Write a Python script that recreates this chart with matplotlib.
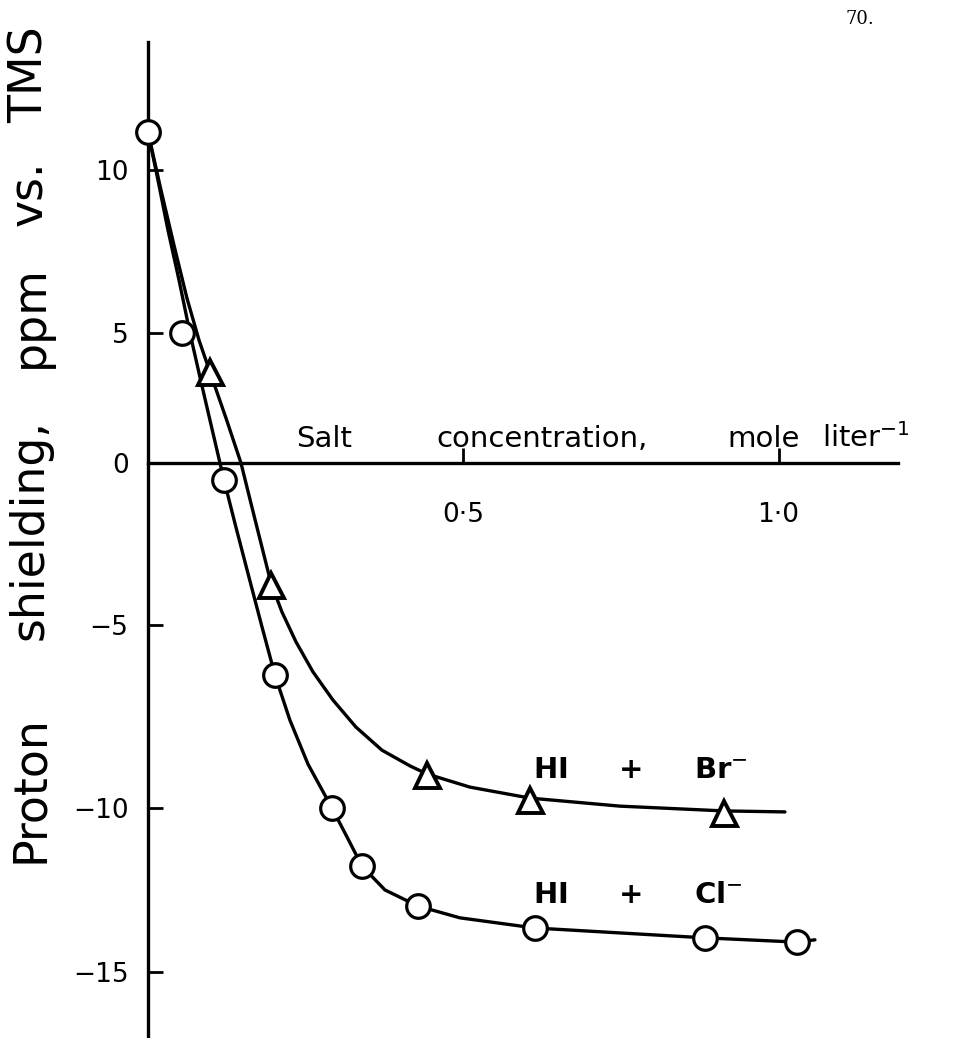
import matplotlib.pyplot as plt
import numpy as np

# HI + Cl-  (open circles)
cl_conc = [0.0, 0.054, 0.1205, 0.2014, 0.2917, 0.3393, 0.4281, 0.6136, 0.8832, 1.029]
cl_shield = [11.17, 5.0, -0.52, -6.37, -10.0, -11.77, -12.99, -13.66, -13.96, -14.09]

# HI + Br-  (open triangles)
br_conc = [0.0983, 0.195, 0.4424, 0.6057, 0.9133]
br_shield = [3.5, -3.77, -9.10, -9.78, -10.15]

# hand-drawn smooth curves through the measurements
cl_line_x = [0.0, 0.0159, 0.0317, 0.0492, 0.0666, 0.0824, 0.0983, 0.1142, 0.1205,
             0.1395, 0.1601, 0.1808, 0.2014, 0.2251, 0.2537, 0.2917, 0.3139, 0.3393,
             0.3758, 0.4281, 0.4947, 0.6136, 0.7484, 0.8832, 1.029, 1.0576]
cl_line_y = [11.17, 9.69, 8.16, 6.63, 5.0, 3.31, 1.65, 0.0, -0.52,
             -1.98, -3.52, -5.05, -6.37, -7.60, -8.80, -10.0, -10.82, -11.77,
             -12.50, -12.99, -13.35, -13.66, -13.81, -13.96, -14.09, -14.02]
br_line_x = [0.0, 0.0206, 0.0412, 0.0618, 0.0809, 0.0983, 0.1237, 0.1475, 0.1601,
             0.1728, 0.1839, 0.195, 0.2125, 0.2347, 0.2616, 0.2933, 0.3298, 0.371,
             0.4154, 0.4424, 0.5105, 0.6057, 0.7484, 0.9133, 1.010]
br_line_y = [11.17, 9.39, 7.70, 6.07, 4.73, 3.50, 1.73, 0.0, -0.99,
             -1.98, -2.84, -3.70, -4.60, -5.46, -6.28, -7.05, -7.79, -8.42,
             -8.85, -9.07, -9.43, -9.73, -9.95, -10.09, -10.12]

y_ticks = [-15, -10, -5, 0, 5, 10]
y_ticklabels = ['\u221215', '\u221210', '\u22125', '0', '5', '10']
x_ticks = [0.5, 1.0]
x_ticklabels = ['0\u00b75', '1\u00b70']

# the ppm ruler was drawn by hand and is not evenly spaced:
# where each labelled value sits along the drawn axis
ruler_vals = np.array([-15.0, -10.0, -5.0, 0.0, 5.0, 10.0])
ruler_pos = np.array([-15.906, -10.781, -5.0625, 0.0, 4.0625, 9.156])


def _stretch(v, xs, ys):
    v = np.asarray(v, dtype=float)
    out = np.interp(v, xs, ys)
    lo = (ys[1] - ys[0]) / (xs[1] - xs[0])
    hi = (ys[-1] - ys[-2]) / (xs[-1] - xs[-2])
    out = np.where(v < xs[0], ys[0] + (v - xs[0]) * lo, out)
    out = np.where(v > xs[-1], ys[-1] + (v - xs[-1]) * hi, out)
    return out


def to_ruler(v):
    return _stretch(v, ruler_vals, ruler_pos)


def from_ruler(p):
    return _stretch(p, ruler_pos, ruler_vals)


fig = plt.figure(figsize=(9.68, 10.38), dpi=100)
ax = fig.add_axes([0, 0, 1, 1])
ax.set_yscale('function', functions=(to_ruler, from_ruler))
ax.set_xlim(-0.2346, 1.3003)
ax.set_ylim(float(from_ruler(-17.97)), float(from_ruler(14.47)))

lw = 2.4
ax.plot(cl_line_x, cl_line_y, color='black', lw=lw, solid_joinstyle='round',
        solid_capstyle='round', zorder=2)
ax.plot(br_line_x, br_line_y, color='black', lw=lw, solid_joinstyle='round',
        solid_capstyle='round', zorder=2)
ax.plot(cl_conc, cl_shield, 'o', ms=17, mfc='white', mec='black', mew=2.3, zorder=3)
ax.plot(br_conc, br_shield, '^', ms=18, mfc='white', mec='black', mew=2.8, zorder=3)

# axes cross at the origin like the hand-drawn frame
for side in ['top', 'right']:
    ax.spines[side].set_visible(False)
ax.spines['left'].set_position(('data', 0))
ax.spines['left'].set_bounds(ax.get_ylim()[0], float(from_ruler(13.16)))
ax.spines['bottom'].set_position(('data', 0))
ax.spines['bottom'].set_bounds(0, 1.19)
for side in ['left', 'bottom']:
    ax.spines[side].set_linewidth(lw)

ax.set_yticks(y_ticks)
ax.set_yticklabels(y_ticklabels)
ax.set_yticks([], minor=True)
ax.set_xticks(x_ticks)
ax.set_xticklabels(x_ticklabels)
ax.tick_params(axis='both', direction='in', length=11, width=2, labelsize=19)
ax.tick_params(axis='y', pad=14)
ax.tick_params(axis='x', pad=28)

# y axis title, lettered word by word with wide spacing
y_words = [('Proton', 789), ('shielding,', 530), ('ppm', 317), ('vs.', 193), ('TMS', 75)]
for word, py in y_words:
    ax.text(30 / 968, 1 - py / 1038, word, transform=ax.transAxes, rotation=90,
            ha='center', va='center', fontsize=33)

# x axis title above the axis
x_words = [('Salt', 324), ('concentration,', 542), ('mole', 764), ('liter$^{-1}$', 866)]
for word, px in x_words:
    ax.text(px / 968, 1 - 447 / 1038, word, transform=ax.transAxes,
            ha='center', va='baseline', fontsize=21)

ax.text(533 / 968, 1 - 770 / 1038, 'HI     +     Br$^{-}$', transform=ax.transAxes,
        fontsize=21, fontweight='bold', ha='left', va='center')
ax.text(533 / 968, 1 - 895 / 1038, 'HI     +     Cl$^{-}$', transform=ax.transAxes,
        fontsize=21, fontweight='bold', ha='left', va='center')

ax.text(860 / 968, 1 - 19 / 1038, '70.', transform=ax.transAxes, ha='center',
        va='center', fontsize=13, family='DejaVu Serif')

fig.savefig('out.png', dpi=100, facecolor='white')
